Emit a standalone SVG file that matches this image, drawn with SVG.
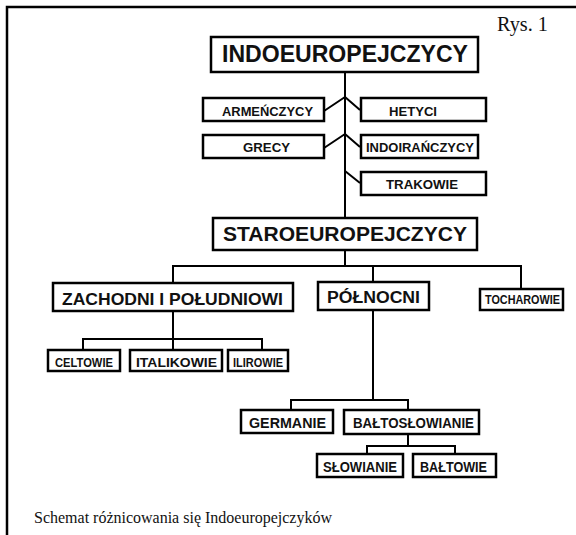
<svg xmlns="http://www.w3.org/2000/svg" width="576" height="535" viewBox="0 0 576 535">
<style>
.box{fill:#fff;stroke:#000;stroke-width:2.5}
.t{font-family:"Liberation Sans",Arial,sans-serif;font-weight:bold;fill:#111}
.ln{fill:none;stroke:#000;stroke-width:2}
.frame{fill:none;stroke:#000;stroke-width:2.5}
.serif{font-family:"Liberation Serif","Times New Roman",serif;fill:#111}
</style>
<rect width="576" height="535" fill="#fff"/>
<path class="frame" d="M7,535 V7 H576"/>
<text class="serif" x="497" y="31" font-size="20" textLength="51" lengthAdjust="spacingAndGlyphs">Rys. 1</text>
<g id="connectors">
<path class="ln" d="M345,72 V218"/>
<path class="ln" d="M345,97 L324,111 M345,97 L360,110"/>
<path class="ln" d="M345,134 L324,148 M345,134 L360,147"/>
<path class="ln" d="M345,171 L360,183"/>
<path class="ln" d="M345,250 V266 M173,283 V266 H521 V289 M373,266 V282"/>
<path class="ln" d="M173,311 V350 M83,350 V339 H262 V350"/>
<path class="ln" d="M373,310 V400 M291,410 V400 H408 V410"/>
<path class="ln" d="M408,434 V446 M367,454 V446 H455 V454"/>
</g>
<g id="indoeuropejczycy"><rect class="box" x="211" y="37" width="267" height="35"/><text class="t" x="222" y="62" font-size="23" textLength="246" lengthAdjust="spacingAndGlyphs">INDOEUROPEJCZYCY</text></g>
<g id="armenczycy"><rect class="box" x="203" y="98" width="121" height="23"/><text class="t" x="222" y="116" font-size="13" textLength="91" lengthAdjust="spacingAndGlyphs">ARMEŃCZYCY</text></g>
<g id="hetyci"><rect class="box" x="361" y="98" width="125" height="23"/><text class="t" x="389" y="116" font-size="13" textLength="48" lengthAdjust="spacingAndGlyphs">HETYCI</text></g>
<g id="grecy"><rect class="box" x="203" y="135" width="121" height="23"/><text class="t" x="243" y="152" font-size="13" textLength="47" lengthAdjust="spacingAndGlyphs">GRECY</text></g>
<g id="indoiranczycy"><rect class="box" x="361" y="135" width="117" height="23"/><text class="t" x="366" y="152" font-size="13" textLength="108" lengthAdjust="spacingAndGlyphs">INDOIRAŃCZYCY</text></g>
<g id="trakowie"><rect class="box" x="361" y="172" width="125" height="23"/><text class="t" x="386" y="189" font-size="13" textLength="72" lengthAdjust="spacingAndGlyphs">TRAKOWIE</text></g>
<g id="staroeuropejczycy"><rect class="box" x="213" y="218" width="264" height="32"/><text class="t" x="223" y="241" font-size="21" textLength="244" lengthAdjust="spacingAndGlyphs">STAROEUROPEJCZYCY</text></g>
<g id="zachodni"><rect class="box" x="53" y="283" width="240" height="28"/><text class="t" x="62" y="305" font-size="17" textLength="221" lengthAdjust="spacingAndGlyphs">ZACHODNI I POŁUDNIOWI</text></g>
<g id="polnocni"><rect class="box" x="318" y="282" width="111" height="28"/><text class="t" x="327" y="303" font-size="16" textLength="93" lengthAdjust="spacingAndGlyphs">PÓŁNOCNI</text></g>
<g id="tocharowie"><rect class="box" x="480" y="289" width="83" height="21"/><text class="t" x="485" y="304" font-size="12" textLength="75" lengthAdjust="spacingAndGlyphs">TOCHAROWIE</text></g>
<g id="celtowie"><rect class="box" x="48" y="350" width="72" height="21"/><text class="t" x="55" y="367" font-size="13" textLength="58" lengthAdjust="spacingAndGlyphs">CELTOWIE</text></g>
<g id="italikowie"><rect class="box" x="130" y="350" width="92" height="21"/><text class="t" x="136" y="367" font-size="13" textLength="81" lengthAdjust="spacingAndGlyphs">ITALIKOWIE</text></g>
<g id="ilirowie"><rect class="box" x="228" y="350" width="60" height="21"/><text class="t" x="233" y="367" font-size="13" textLength="50" lengthAdjust="spacingAndGlyphs">ILIROWIE</text></g>
<g id="germanie"><rect class="box" x="241" y="410" width="92" height="23"/><text class="t" x="249" y="428" font-size="14" textLength="77" lengthAdjust="spacingAndGlyphs">GERMANIE</text></g>
<g id="baltoslowianie"><rect class="box" x="344" y="410" width="135" height="24"/><text class="t" x="353" y="428" font-size="14" textLength="121" lengthAdjust="spacingAndGlyphs">BAŁTOSŁOWIANIE</text></g>
<g id="slowianie"><rect class="box" x="317" y="454" width="86" height="23"/><text class="t" x="323" y="472" font-size="14" textLength="74" lengthAdjust="spacingAndGlyphs">SŁOWIANIE</text></g>
<g id="baltowie"><rect class="box" x="413" y="454" width="83" height="23"/><text class="t" x="420" y="472" font-size="14" textLength="67" lengthAdjust="spacingAndGlyphs">BAŁTOWIE</text></g>
<text class="serif" x="34" y="523" font-size="16" textLength="298" lengthAdjust="spacingAndGlyphs">Schemat różnicowania się Indoeuropejczyków</text>
</svg>
